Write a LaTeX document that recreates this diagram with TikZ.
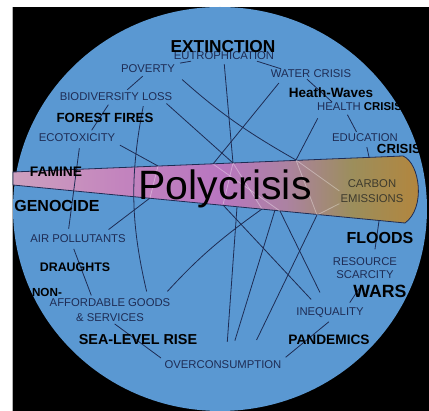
\documentclass[tikz,border=0pt]{standalone}
\usepackage{fontspec}
\setmainfont{Liberation Sans}
\usetikzlibrary{backgrounds}

\definecolor{seablue}{RGB}{90,152,210}
\definecolor{inkblue}{RGB}{30,44,84}
\definecolor{conepink}{RGB}{205,160,190}
\definecolor{coneorchid}{RGB}{195,132,190}
\definecolor{conemauve}{RGB}{184,118,192}
\definecolor{conedust}{RGB}{172,130,162}
\definecolor{coneolive}{RGB}{156,142,92}
\definecolor{coneamber}{RGB}{178,134,62}
\pgfdeclarehorizontalshading{conefade}{100bp}{color(0bp)=(conepink); color(25bp)=(conepink);
  color(38bp)=(coneorchid); color(50bp)=(conemauve); color(58bp)=(conedust);
  color(66bp)=(coneolive); color(74bp)=(coneamber); color(100bp)=(coneamber)}

\begin{document}
\begin{tikzpicture}[x=1pt,y=-1pt,
    issue/.style={text=inkblue,inner sep=1pt,align=center,font=\fontsize{11.3}{15}\selectfont},
    threat/.style={text=black,inner sep=1pt,font=\fontsize{#1}{#1}\selectfont\bfseries},
    threat/.default=13.5,
    link/.style={draw=inkblue,line width=0.8pt},
    glow/.style={draw=white,opacity=0.35,line width=0.8pt}]
    \useasboundingbox (0,0) rectangle (429,411);

    % labels round the rim
    \node [issue] (eut) at (224,56) {EUTROPHICATION};
    \node [threat=17.3] (ext) at (223,47) {EXTINCTION};
    \node [issue] (pov) at (148,69) {POVERTY};
    \node [issue] (bio) at (116,97) {BIODIVERSITY LOSS};
    \node [threat=13.3] (fire) at (105,118) {FOREST FIRES};
    \node [issue] (eco) at (77,138) {ECOTOXICITY};
    \node [threat=13.8] (fam) at (56,172) {FAMINE};
    \node [threat=16] (gen) at (57,206) {GENOCIDE};
    \node [issue] (air) at (78,239) {AIR POLLUTANTS};
    \node [threat=12.4] (dra) at (75,267) {DRAUGHTS};
    \node [threat=11.7] (non) at (47,292) {NON-};
    \node [issue] (aff) at (110,310) {AFFORDABLE GOODS\\\& SERVICES};
    \node [threat=14.4] (sea) at (138,340) {SEA-LEVEL RISE};
    \node [issue] (over) at (223,365) {OVERCONSUMPTION};
    \node [threat=13.7] (pan) at (329,340) {PANDEMICS};
    \node [issue] (ineq) at (330,313) {INEQUALITY};
    \node [threat=17.7] (wars) at (380,291) {WARS};
    \node [issue,font=\fontsize{11.3}{13}\selectfont] (res) at (365,268) {RESOURCE\\SCARCITY};
    \node [threat=16] (flood) at (380,238) {FLOODS};
    \node [issue,text=black!75!olive] (carb) at (372,191) {CARBON\\EMISSIONS};
    \node [issue] (edu) at (365,138) {EDUCATION};
    \node [threat=13.2] (crisA) at (399,149) {CRISIS};
    \node [issue] (hea) at (339,107) {HEALTH};
    \node [threat=11.4] (crisB) at (383,107) {CRISIS};
    \node [threat=13.5] (heat) at (331,93) {Heath-Waves};
    \node [issue] (wat) at (311,74) {WATER CRISIS};
    \node [anchor=base,font=\fontsize{41}{41}\selectfont] (poly) at (225,200) {Polycrisis};

    % where the links meet the cone
    \coordinate (t0) at (158,166);
    \coordinate (t1) at (233,163);
    \coordinate (t2) at (213,164);
    \coordinate (t3) at (296,160);
    \coordinate (t5) at (369,157);
    \coordinate (b0) at (150,198);
    \coordinate (b1) at (223,205);
    \coordinate (b5) at (237,207);
    \coordinate (b2) at (262,209);
    \coordinate (b7) at (275,210);
    \coordinate (b3) at (280,211);
    \coordinate (b4) at (317,215);
    \coordinate (b6) at (379,221);

    \begin{pgfonlayer}{background}
    \fill [white] (0,0) rectangle (429,411);
    \fill [black] (12,7) rectangle (429,411);
    \draw [gray!60,line width=0.6pt] (12,7) -- (12,411);
    \fill [seablue] (220,209) ellipse [x radius=207pt,y radius=202pt];
    \shadedraw [shading=conefade,draw=inkblue,line width=0.8pt]
        (13,172) -- (403,156) .. controls (420,163) and (426,208) .. (405,223) -- (13,185) -- cycle;
    \draw [glow] (t2) -- (b3);
    \draw [glow] (t1) -- (b2);
    \draw [glow] (t1) -- (b1);
    \draw [glow] (t3) -- (b4);
    \draw [glow] (t3) -- (carb.west);
    \draw [glow] (carb.south west) -- (b4);
    \draw [glow] (t0) -- (b0);

    % links above the cone
    \begin{scope}[link]
    \draw [shorten >=3pt,shorten <=3pt] ([xshift=-3pt]pov.south) -- ([xshift=9pt]bio.north);
    \draw [shorten >=3pt,shorten <=3pt] ([xshift=-6pt]bio.south) -- ([xshift=13pt]eco.north);
    \draw [shorten >=5pt,shorten <=5pt] ([xshift=3pt]eco.south) -- ([xshift=-10pt]air.north);
    \draw [shorten >=2pt,shorten <=5pt] ([xshift=-6pt]air.south) -- ([xshift=-18pt]aff.north);
    \draw [shorten >=6pt,shorten <=4pt] ([xshift=28pt]bio.south) to [bend right=12] ([xshift=38pt]aff.north);
    \draw [shorten <=2pt] ([xshift=49pt]bio.south) -- (t1);
    \draw [shorten <=8pt] (pov.south east) to [bend right=6] (t3);
    \draw [shorten <=3pt] (eut.south) -- (t1);
    \draw [shorten <=5pt] ([xshift=-29pt]wat.south) -- (t2);
    \draw ([xshift=33pt]eut.south) -- ([xshift=-30pt]wat.north);
    \draw [shorten >=4pt] ([xshift=-33pt]eut.south) -- (pov.north east);
    \draw ([xshift=-4pt]wat.south) -- ([xshift=-7pt]hea.north);
    \draw [shorten <=7pt] ([xshift=-18pt]hea.south) -- (t3);
    \draw [shorten >=1pt,shorten <=3pt] ([xshift=7pt]hea.south) -- ([xshift=-8pt]edu.north);
    \draw [shorten <=4pt] ([xshift=1pt]edu.south) -- (t5);
    \draw [shorten <=4pt] (eco.south east) -- (t0);
    \end{scope}

    % links below the cone
    \begin{scope}[link]
    \draw [shorten <=7pt] ([xshift=25pt]air.north) -- (b0);
    \draw [shorten <=8pt] ([xshift=52pt]aff.north) to [bend left=6] (b2);
    \draw [shorten <=18pt] ([xshift=3pt]over.north) -- (b5);
    \draw [shorten <=20pt] ([xshift=6pt]over.north) -- (b7);
    \draw [shorten <=22pt] ([xshift=24pt]over.north) -- (b4);
    \draw [shorten >=10pt] (b1) -- ([xshift=-12pt]ineq.north);
    \draw [shorten >=16pt] (b3) -- ([xshift=-3pt]ineq.north);
    \draw [shorten >=4pt,shorten <=4pt] ([xshift=2pt]ineq.south) -- (over.north east);
    \draw [shorten >=10pt,shorten <=5pt] ([xshift=17pt]ineq.north) -- (res.south);
    \draw [shorten >=7pt] (b6) -- ([xshift=9pt]res.north);
    \draw [shorten >=3pt,shorten <=2pt] ([xshift=3pt]aff.south) -- (over.north west);
    \end{scope}
    \end{pgfonlayer}
\end{tikzpicture}
\end{document}
